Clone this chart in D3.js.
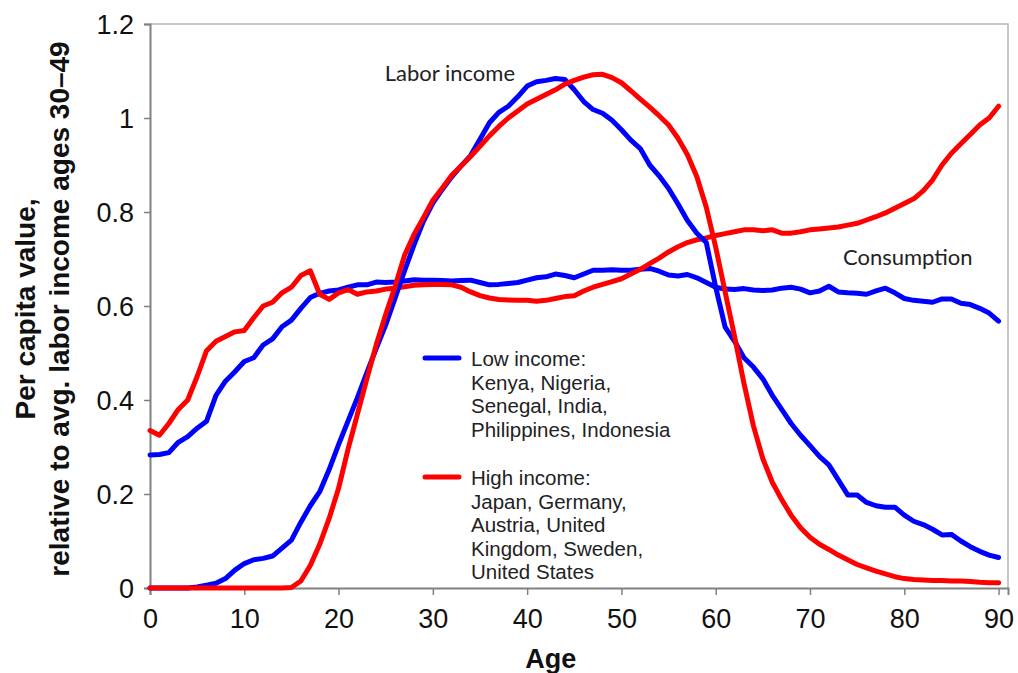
<!DOCTYPE html>
<html>
<head>
<meta charset="utf-8">
<script src="https://cdn.jsdelivr.net/npm/d3@7"></script>
<style>
  html, body { margin: 0; padding: 0; background: #ffffff; }
  svg { display: block; }
</style>
</head>
<body>
<svg id="chart" width="1018" height="673"></svg>
<script>
// Age profiles, ages 0–90, per capita values relative to average labor income at ages 30–49
const ages = d3.range(0, 91);

const lowLabor = [
  0.000, 0.000, 0.000, 0.000, 0.000, 0.002, 0.006, 0.010, 0.020, 0.038,
  0.052, 0.060, 0.063, 0.068, 0.085, 0.102, 0.140, 0.175, 0.205, 0.252,
  0.305, 0.355, 0.405, 0.458, 0.510, 0.560, 0.617, 0.675, 0.730, 0.780,
  0.819, 0.848, 0.875, 0.898, 0.920, 0.955, 0.990, 1.012, 1.025, 1.045,
  1.068, 1.077, 1.080, 1.084, 1.082, 1.060, 1.035, 1.018, 1.010, 0.995,
  0.975, 0.953, 0.935, 0.900, 0.877, 0.850, 0.817, 0.782, 0.755, 0.735,
  0.640, 0.555, 0.525, 0.490, 0.470, 0.445, 0.410, 0.380, 0.350, 0.325,
  0.303, 0.280, 0.262, 0.230, 0.198, 0.198, 0.182, 0.175, 0.172, 0.172,
  0.155, 0.142, 0.135, 0.125, 0.113, 0.114, 0.100, 0.088, 0.078, 0.070,
  0.065
];

const highLabor = [
  0.000, 0.000, 0.000, 0.000, 0.000, 0.000, 0.000, 0.000, 0.000, 0.000,
  0.000, 0.000, 0.000, 0.000, 0.000, 0.001, 0.015, 0.048, 0.093, 0.148,
  0.212, 0.295, 0.370, 0.445, 0.518, 0.582, 0.642, 0.708, 0.752, 0.788,
  0.825, 0.851, 0.878, 0.898, 0.918, 0.940, 0.962, 0.982, 1.000, 1.015,
  1.030, 1.040, 1.050, 1.060, 1.072, 1.080, 1.087, 1.092, 1.093, 1.086,
  1.075, 1.058, 1.040, 1.023, 1.005, 0.985, 0.957, 0.922, 0.875, 0.810,
  0.725, 0.630, 0.535, 0.435, 0.345, 0.275, 0.225, 0.188, 0.155, 0.128,
  0.108, 0.093, 0.082, 0.070, 0.060, 0.050, 0.043, 0.036, 0.030, 0.024,
  0.020, 0.018, 0.017, 0.016, 0.016, 0.015, 0.015, 0.014, 0.012, 0.011,
  0.011
];

const lowCons = [
  0.283, 0.284, 0.288, 0.310, 0.322, 0.340, 0.355, 0.410, 0.440, 0.460,
  0.482, 0.490, 0.517, 0.530, 0.556, 0.570, 0.595, 0.618, 0.627, 0.632,
  0.634, 0.640, 0.645, 0.645, 0.651, 0.650, 0.651, 0.653, 0.656, 0.655,
  0.655, 0.654, 0.653, 0.654, 0.655, 0.650, 0.645, 0.646, 0.648, 0.650,
  0.655, 0.660, 0.662, 0.668, 0.665, 0.660, 0.668, 0.676, 0.676, 0.677,
  0.676, 0.676, 0.678, 0.680, 0.674, 0.666, 0.664, 0.667, 0.660, 0.650,
  0.640, 0.636, 0.635, 0.637, 0.634, 0.633, 0.634, 0.638, 0.640, 0.636,
  0.628, 0.632, 0.642, 0.630, 0.628, 0.627, 0.625, 0.632, 0.638, 0.628,
  0.616, 0.612, 0.610, 0.608, 0.615, 0.615, 0.606, 0.603, 0.595, 0.585,
  0.568
];

const highCons = [
  0.335, 0.325, 0.350, 0.380, 0.400, 0.450, 0.505, 0.525, 0.535, 0.545,
  0.548, 0.575, 0.600, 0.608, 0.628, 0.640, 0.665, 0.675, 0.625, 0.614,
  0.628, 0.635, 0.625, 0.630, 0.632, 0.636, 0.638, 0.641, 0.644, 0.645,
  0.646, 0.646, 0.645, 0.640, 0.630, 0.622, 0.617, 0.614, 0.613, 0.612,
  0.612, 0.610, 0.612, 0.616, 0.620, 0.622, 0.632, 0.640, 0.646, 0.652,
  0.658, 0.668, 0.678, 0.690, 0.702, 0.715, 0.726, 0.735, 0.741, 0.745,
  0.750, 0.754, 0.758, 0.762, 0.762, 0.760, 0.762, 0.755, 0.755, 0.758,
  0.762, 0.764, 0.766, 0.768, 0.772, 0.776, 0.783, 0.790, 0.798, 0.808,
  0.818, 0.828, 0.845, 0.868, 0.900, 0.925, 0.945, 0.965, 0.985, 1.000,
  1.025
];

const xTicks = [0, 10, 20, 30, 40, 50, 60, 70, 80, 90];
const yTicks = [0, 0.2, 0.4, 0.6, 0.8, 1, 1.2];

const lowLegend = ["Low income:", "Kenya, Nigeria,", "Senegal, India,", "Philippines, Indonesia"];
const highLegend = ["High income:", "Japan, Germany,", "Austria, United", "Kingdom, Sweden,", "United States"];

const BLUE = "#0000ff";
const RED = "#ff0000";

const svg = d3.select("#chart");
const margin = { left: 150, top: 24, right: 10, bottom: 85 };
const W = 1018, H = 673;
const innerW = W - margin.left - margin.right;
const innerH = H - margin.top - margin.bottom;

const x = d3.scaleLinear().domain([0, 91]).range([0, innerW]);
const y = d3.scaleLinear().domain([0, 1.2]).range([innerH, 0]);

const g = svg.append("g").attr("transform", `translate(${margin.left},${margin.top})`);

// light frame on the top and right edges
g.append("path")
  .attr("d", `M0,0H${innerW}V${innerH}`)
  .attr("fill", "none")
  .attr("stroke", "#b5b5b5")
  .attr("stroke-width", 1.5);

// axes
const fmt = d => String(+d.toFixed(1));
const yAxis = g.append("g")
  .call(d3.axisLeft(y).tickValues(yTicks).tickFormat(fmt).tickSize(6).tickPadding(10));
const xAxis = g.append("g")
  .attr("transform", `translate(0,${innerH})`)
  .call(d3.axisBottom(x).tickValues(xTicks).tickFormat(d3.format("d")).tickSize(7).tickPadding(10));

[yAxis, xAxis].forEach(a => {
  a.select(".domain").attr("stroke", "#808080").attr("stroke-width", 2);
  a.selectAll(".tick line").attr("stroke", "#808080").attr("stroke-width", 1.5);
  a.selectAll(".tick text")
    .attr("fill", "#111")
    .style("font-family", "'Liberation Sans', Arial, sans-serif")
    .style("font-size", "27px");
});
xAxis.selectAll(".tick text").attr("dy", "0.85em");
yAxis.selectAll(".tick text").attr("dy", "0.36em");

// series
const line = d3.line()
  .x((d, i) => x(ages[i]))
  .y(d => y(d))
  .curve(d3.curveLinear);

const series = [
  { values: lowCons, color: BLUE },
  { values: highCons, color: RED },
  { values: lowLabor, color: BLUE },
  { values: highLabor, color: RED }
];

g.selectAll("path.series")
  .data(series)
  .join("path")
  .attr("class", "series")
  .attr("d", s => line(s.values))
  .attr("fill", "none")
  .attr("stroke", s => s.color)
  .attr("stroke-width", 5)
  .attr("stroke-linejoin", "round")
  .attr("stroke-linecap", "round");

// curve annotations
const noteFont = "Lato, 'Open Sans', sans-serif";
g.append("text")
  .attr("x", x(24.9)).attr("y", y(1.079))
  .attr("fill", "#222")
  .style("font-family", noteFont).style("font-size", "22px")
  .text("Labor income");
g.append("text")
  .attr("x", x(73.5)).attr("y", y(0.687))
  .attr("fill", "#222")
  .style("font-family", noteFont).style("font-size", "22px")
  .text("Consumption");

// legend
const legend = g.append("g").attr("transform", `translate(${425 - margin.left},${358 - margin.top})`);
const lineGap = 23.5;
function legendBlock(yOff, color, lines) {
  legend.append("line")
    .attr("x1", 0).attr("x2", 34)
    .attr("y1", yOff).attr("y2", yOff)
    .attr("stroke", color).attr("stroke-width", 5).attr("stroke-linecap", "round");
  legend.append("g").selectAll("text")
    .data(lines)
    .join("text")
    .attr("x", 46)
    .attr("y", (d, i) => yOff + 8 + i * lineGap)
    .attr("fill", "#222")
    .style("font-family", "'Liberation Sans', Arial, sans-serif")
    .style("font-size", "20.5px")
    .text(d => d);
}
legendBlock(0, BLUE, lowLegend);
legendBlock(119, RED, highLegend);

// axis titles
const titleFont = "'Liberation Sans', Arial, sans-serif";
const yTitle = svg.append("text")
  .attr("transform", `translate(0,${margin.top + innerH / 2 + 3}) rotate(-90)`)
  .attr("text-anchor", "middle")
  .attr("fill", "#111")
  .style("font-family", titleFont)
  .style("font-size", "28px")
  .style("font-weight", "bold");
yTitle.append("tspan").attr("x", 0).attr("y", 35).text("Per capita value,");
yTitle.append("tspan").attr("x", 0).attr("y", 69).text("relative to avg. labor income ages 30\u201349");

svg.append("text")
  .attr("x", margin.left + x(42.5))
  .attr("y", 668)
  .attr("text-anchor", "middle")
  .attr("fill", "#111")
  .style("font-family", titleFont)
  .style("font-size", "27px")
  .style("font-weight", "bold")
  .text("Age");
</script>
</body>
</html>
